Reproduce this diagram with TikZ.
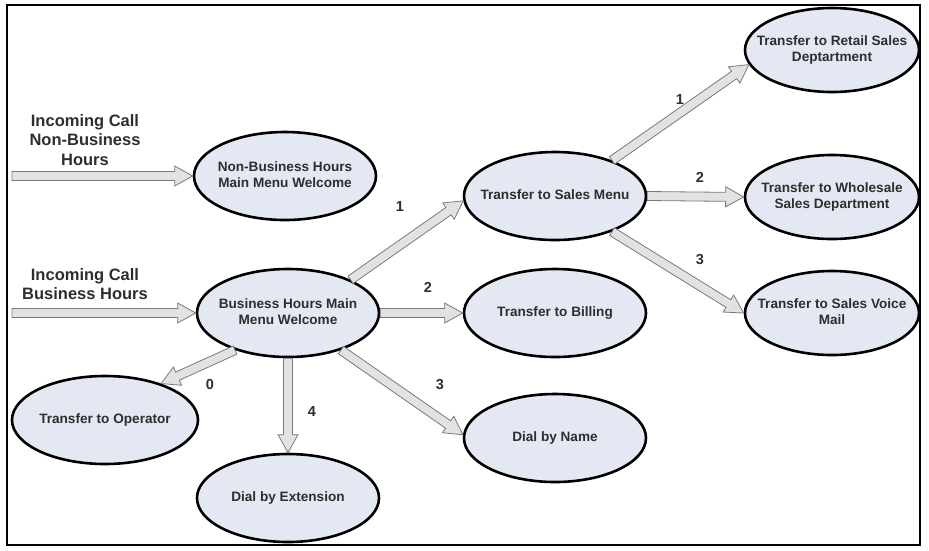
\documentclass[tikz,border=0pt]{standalone}
\usepackage{fontspec}
\setmainfont{Liberation Sans}
\usetikzlibrary{calc,shapes.geometric}
\definecolor{ellfill}{HTML}{E4E8F2}
\definecolor{txt}{HTML}{2E2E2E}
\definecolor{arrfill}{HTML}{E2E2E2}
\definecolor{arrline}{HTML}{7A7A7A}
\newcommand\ctext[1]{\makebox[0pt][c]{\begin{tabular}{@{}c@{}}#1\end{tabular}}}
\tikzset{
 state/.style={ellipse, draw=black, line width=2.6pt, fill=ellfill, minimum width=182pt, minimum height=88pt, inner sep=0pt, font=\bfseries\fontsize{13.6}{16}\selectfont, text=txt},
 lbl/.style={font=\bfseries\fontsize{14.5}{16}\selectfont, text=txt},
 incoming/.style={font=\bfseries\fontsize{16.5}{19.5}\selectfont, text=txt, align=center},
 fat/.style={fill=arrfill, draw=arrline, line width=0.8pt, line join=miter},
}
\newcommand\fatarrow[2]{%
 \path[fat] let \p1=(#1), \p2=(#2), \n1={atan2(\y2-\y1,\x2-\x1)}, \n2={veclen(\x2-\x1,\y2-\y1)} in
 [shift={(\p1)}, rotate=\n1] (0,-4.5) -- ({\n2-18},-4.5) -- ({\n2-18},-10) -- (\n2,0) -- ({\n2-18},10) -- ({\n2-18},4.5) -- (0,4.5) -- cycle;}
\begin{document}
\begin{tikzpicture}[x=1pt,y=-1pt]
\useasboundingbox (0,0) rectangle (929,550);
\fill[white] (0,0) rectangle (929,550);
\draw[line width=2pt] (7,5) rectangle (920,545);

\node[state] (nb) at (285,176) {\ctext{Non-Business Hours\\Main Menu Welcome}};
\node[state] (bh) at (288,313) {\ctext{Business Hours Main\\Menu Welcome}};
\node[state] (sm) at (555,196) {\ctext{Transfer to Sales Menu}};
\node[state] (bill) at (555,313) {\ctext{Transfer to Billing}};
\node[state] (dn) at (555,438) {\ctext{Dial by Name}};
\node[state, minimum width=174pt, minimum height=84pt] (rt) at (832,50) {\ctext{Transfer to Retail Sales\\Deptartment}};
\node[state, minimum width=174pt, minimum height=84pt] (ws) at (832,197) {\ctext{Transfer to Wholesale\\Sales Department}};
\node[state, minimum width=174pt, minimum height=84pt] (vm) at (832,313) {\ctext{Transfer to Sales Voice\\Mail}};
\node[state, minimum width=186pt] (op) at (105,420) {\ctext{Transfer to Operator}};
\node[state] (de) at (288,498) {\ctext{Dial by Extension}};

\node[incoming] (inNBt) at (85,140) {Incoming Call\\Non-Business\\Hours};
\node[incoming] (inBt) at (85,284) {Incoming Call\\Business Hours};
\coordinate (inNB) at (12,176);
\coordinate (inB) at (12,313);

\fatarrow{inNB}{nb.180}
\fatarrow{inB}{bh.180}
\fatarrow{bh.28}{sm.183}
\fatarrow{bh.0}{bill.180}
\fatarrow{bh.-35}{dn.178}
\fatarrow{bh.215}{op.33}
\fatarrow{bh.270}{de.90}
\fatarrow{sm.32}{rt.190}
\fatarrow{sm.0}{ws.180}
\fatarrow{sm.-32}{vm.180}

\node[lbl] (l1) at (400,207) {1};
\node[lbl] (l2) at (428,287) {2};
\node[lbl] (l3) at (440,385) {3};
\node[lbl] (l0) at (210,384) {0};
\node[lbl] (l4) at (312,412) {4};
\node[lbl] (s1) at (680,100) {1};
\node[lbl] (s2) at (700,177) {2};
\node[lbl] (s3) at (700,260) {3};
\end{tikzpicture}
\end{document}
